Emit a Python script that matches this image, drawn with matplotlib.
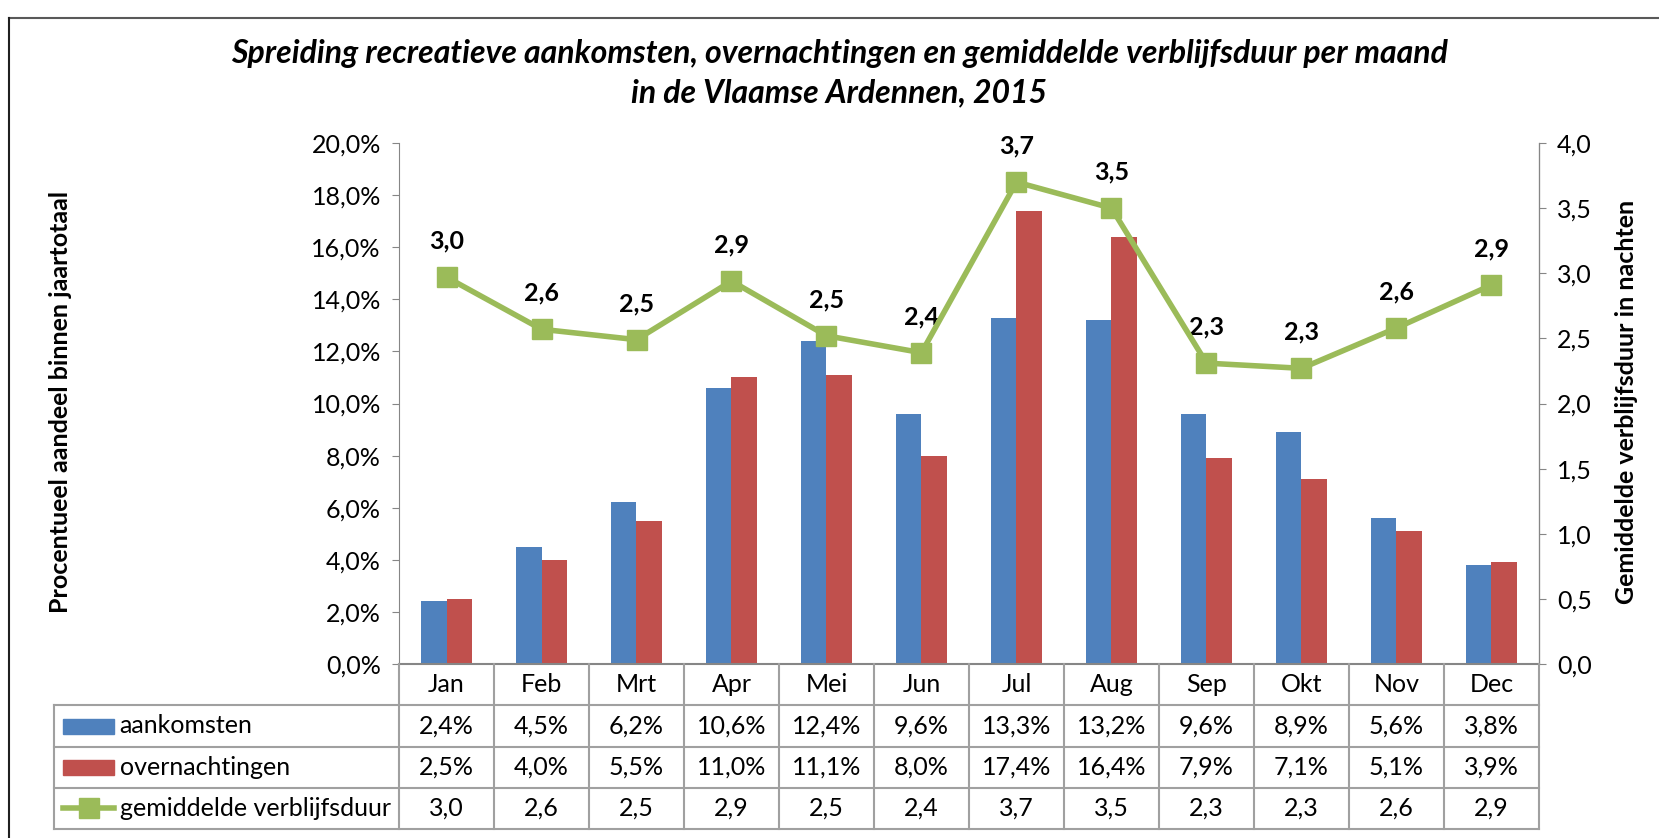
import matplotlib.pyplot as plt
from matplotlib.lines import Line2D
from matplotlib.patches import Rectangle
import numpy as np

# data
months = ['Jan', 'Feb', 'Mrt', 'Apr', 'Mei', 'Jun', 'Jul', 'Aug', 'Sep', 'Okt', 'Nov', 'Dec']
aankomsten = [2.4, 4.5, 6.2, 10.6, 12.4, 9.6, 13.3, 13.2, 9.6, 8.9, 5.6, 3.8]
overnachtingen = [2.5, 4.0, 5.5, 11.0, 11.1, 8.0, 17.4, 16.4, 7.9, 7.1, 5.1, 3.9]
verblijfsduur = [2.97, 2.57, 2.49, 2.94, 2.52, 2.39, 3.70, 3.50, 2.31, 2.27, 2.58, 2.91]

C_BLUE = '#4F81BD'
C_RED = '#C0504D'
C_GREEN = '#9BBB59'
FONT = 'Lato'
FS = 18

W, H = 1659, 838
fig = plt.figure(figsize=(W / 100, H / 100), dpi=100)
plt.rcParams['font.family'] = [FONT, 'DejaVu Sans']


def px(x0, y0, x1, y1):
    # pixel box -> figure fraction rect
    return [x0 / W, 1 - y1 / H, (x1 - x0) / W, (y1 - y0) / H]


# frame
fig.add_artist(Line2D([8.5 / W, 1], [1 - 18 / H, 1 - 18 / H], color='#595959', lw=1.5))
fig.add_artist(Line2D([8.5 / W, 8.5 / W], [0, 1 - 18 / H], color='#202020', lw=1.5))

# title
fig.text(839 / W, 1 - 53 / H, 'Spreiding recreatieve aankomsten, overnachtingen en gemiddelde verblijfsduur per maand',
         ha='center', va='center', fontsize=23, fontweight='bold', fontstyle='italic')
fig.text(839 / W, 1 - 93 / H, 'in de Vlaamse Ardennen, 2015',
         ha='center', va='center', fontsize=23, fontweight='bold', fontstyle='italic')

# main axes
ax = fig.add_axes(px(399, 143, 1539, 664))
x = np.arange(len(months))
bw = 0.27
ax.bar(x - bw / 2, aankomsten, bw, color=C_BLUE)
ax.bar(x + bw / 2, overnachtingen, bw, color=C_RED)
ax.set_xlim(-0.5, 11.5)
ax.set_ylim(0, 20)
ax.set_yticks(np.arange(0, 20.1, 2))
ax.set_yticklabels([f'{v:.1f}%'.replace('.', ',') for v in np.arange(0, 20.1, 2)], fontsize=FS)
ax.set_xticks([])
for s in ['top', 'bottom']:
    ax.spines[s].set_visible(False)
ax.spines['left'].set_color('#868686')
ax.tick_params(axis='y', colors='#868686', labelcolor='black', length=5, pad=8)

ax2 = ax.twinx()
ax2.plot(x, verblijfsduur, color=C_GREEN, lw=4, marker='s', markersize=14, zorder=5)
ax2.set_ylim(0, 4)
ax2.set_yticks(np.arange(0, 4.01, 0.5))
ax2.set_yticklabels([f'{v:.1f}'.replace('.', ',') for v in np.arange(0, 4.01, 0.5)], fontsize=FS)
for s in ['top', 'bottom', 'left']:
    ax2.spines[s].set_visible(False)
ax2.spines['right'].set_color('#868686')
ax2.tick_params(axis='y', colors='#868686', labelcolor='black', length=5, pad=8)
for xi, v in zip(x, verblijfsduur):
    ax2.annotate(f'{v:.1f}'.replace('.', ','), (xi, v), xytext=(0, 26), textcoords='offset points',
                 ha='center', va='center', fontsize=FS, fontweight='bold')

# axis titles
fig.text(61 / W, 1 - 402 / H, 'Procentueel aandeel binnen jaartotaal', rotation=90,
         ha='center', va='center', fontsize=FS, fontweight='bold')
fig.text(1626 / W, 1 - 402 / H, 'Gemiddelde verblijfsduur in nachten', rotation=90,
         ha='center', va='center', fontsize=FS, fontweight='bold')

# data table
tax = fig.add_axes(px(54, 664, 1539, 829))
left_units = (399 - 54) / 95.0
tax.set_xlim(-0.5 - left_units, 11.5)
tax.set_ylim(4, 0)
tax.axis('off')
gc = '#A0A0A0'
tx0 = -0.5 - left_units
# horizontal lines
tax.plot([-0.5, 11.5], [0, 0], color='#868686', lw=1.5, clip_on=False)
for r in [1, 2, 3, 4]:
    tax.plot([tx0, 11.5], [r, r], color=gc, lw=1.5, clip_on=False)
# vertical lines
tax.plot([tx0, tx0], [1, 4], color=gc, lw=1.5, clip_on=False)
for c in range(13):
    tax.plot([c - 0.5, c - 0.5], [0, 4], color=gc, lw=1.5, clip_on=False)

rows = [
    ('aankomsten', [f'{v:.1f}%'.replace('.', ',') for v in aankomsten]),
    ('overnachtingen', [f'{v:.1f}%'.replace('.', ',') for v in overnachtingen]),
    ('gemiddelde verblijfsduur', [f'{v:.1f}'.replace('.', ',') for v in verblijfsduur]),
]
for i, m in enumerate(months):
    tax.text(i, 0.5, m, ha='center', va='center', fontsize=FS)
for r, (label, vals) in enumerate(rows, start=1):
    for i, s in enumerate(vals):
        tax.text(i, r + 0.5, s, ha='center', va='center', fontsize=FS)
    tax.text(tx0 + 0.69, r + 0.5, label, ha='left', va='center', fontsize=FS)

# legend keys
kx0 = tx0 + 0.1
kw = 0.53
tax.add_patch(Rectangle((kx0, 1.33), kw, 0.36, color=C_BLUE))
tax.add_patch(Rectangle((kx0, 2.33), kw, 0.36, color=C_RED))
tax.plot([kx0, kx0 + kw], [3.5, 3.5], color=C_GREEN, lw=4)
tax.plot([kx0 + kw / 2], [3.5], color=C_GREEN, marker='s', markersize=14)

fig.savefig('out.png', dpi=100)
